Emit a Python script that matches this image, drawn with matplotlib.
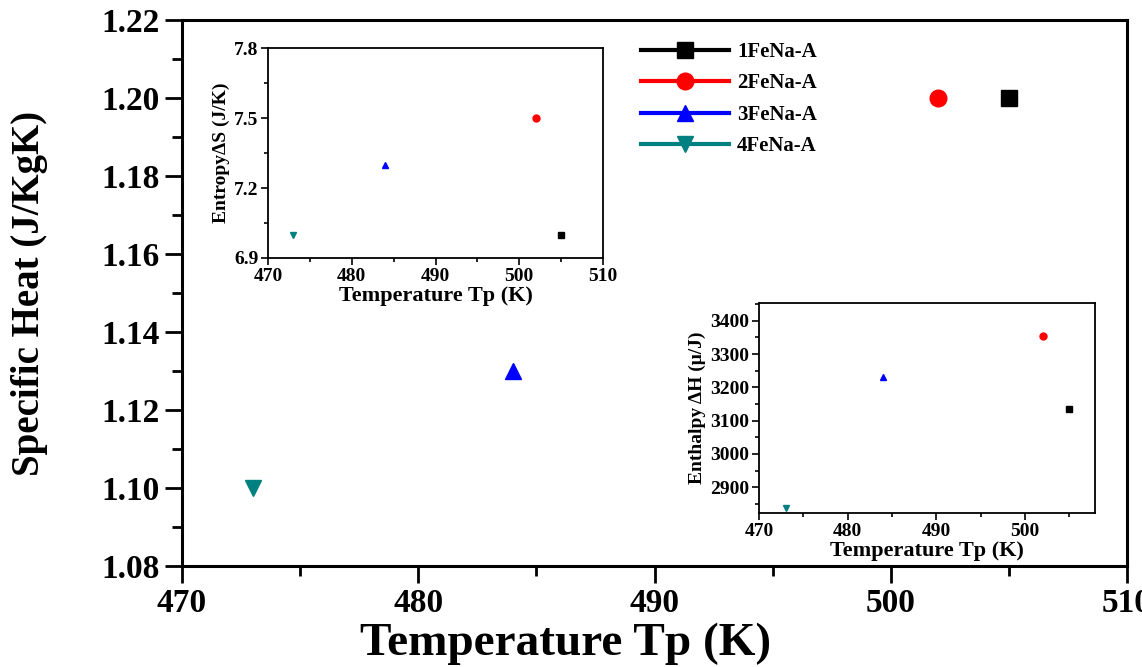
import matplotlib
matplotlib.use("Agg")
import matplotlib.pyplot as plt
from matplotlib.ticker import MultipleLocator

# donnees
samples = ["1FeNa-A", "2FeNa-A", "3FeNa-A", "4FeNa-A"]
temps = [505, 502, 484, 473]
specific_heat = [1.20, 1.20, 1.13, 1.10]
entropy = [7.0, 7.5, 7.3, 7.0]
enthalpy = [3135, 3355, 3232, 2838]

colors = ["black", "red", "blue", "#008080"]
markers = ["s", "o", "^", "v"]

plt.rcParams["font.family"] = ["Liberation Serif", "DejaVu Serif"]
plt.rcParams["font.weight"] = "bold"

fig = plt.figure(figsize=(11.42, 6.67), dpi=100)

# axe principal
ax = fig.add_axes([0.1594, 0.1514, 0.8275, 0.8186])
for i in range(len(samples)):
    ax.plot(temps[i], specific_heat[i], ls="-", lw=3, marker=markers[i],
            color=colors[i], ms=12, label=samples[i])
ax.set_xlim(470, 510)
ax.set_ylim(1.08, 1.22)
ax.xaxis.set_major_locator(MultipleLocator(10))
ax.xaxis.set_minor_locator(MultipleLocator(5))
ax.yaxis.set_major_locator(MultipleLocator(0.02))
ax.yaxis.set_minor_locator(MultipleLocator(0.01))
ax.tick_params(which="major", direction="out", length=12, width=2, labelsize=24, pad=4)
ax.tick_params(which="minor", direction="out", length=7, width=2)
for sp in ax.spines.values():
    sp.set_linewidth(2.2)
ax.set_xlabel("Temperature Tp (K)", fontsize=34, fontweight="bold")
ax.xaxis.set_label_coords(0.406, -0.103)
ax.set_ylabel("Specific Heat (J/KgK)", fontsize=28, fontweight="bold")
ax.yaxis.set_label_coords(-0.142, 0.5)
ax.legend(loc="upper left", bbox_to_anchor=(0.477, 0.975), frameon=False,
          fontsize=15, handlelength=4.2, handletextpad=0.4, labelspacing=0.55,
          borderaxespad=0)

# encart entropie
ax1 = fig.add_axes([0.2347, 0.6132, 0.2933, 0.3148])
for i in range(len(samples)):
    ax1.plot(temps[i], entropy[i], ls="none", marker=markers[i], color=colors[i], ms=5)
ax1.set_xlim(470, 510)
ax1.set_ylim(6.9, 7.8)
ax1.xaxis.set_major_locator(MultipleLocator(10))
ax1.xaxis.set_minor_locator(MultipleLocator(5))
ax1.yaxis.set_major_locator(MultipleLocator(0.3))
ax1.yaxis.set_minor_locator(MultipleLocator(0.15))
ax1.tick_params(which="major", direction="out", length=5, width=1.2, labelsize=14, pad=2)
ax1.tick_params(which="minor", direction="out", length=3, width=1.2)
for sp in ax1.spines.values():
    sp.set_linewidth(1.3)
ax1.set_xlabel("Temperature Tp (K)", fontsize=16, fontweight="bold", labelpad=1)
ax1.set_ylabel("Entropy\u0394S (J/K)", fontsize=14, fontweight="bold", labelpad=3)

# encart enthalpie
ax2 = fig.add_axes([0.6646, 0.2309, 0.2942, 0.3148])
for i in range(len(samples)):
    ax2.plot(temps[i], enthalpy[i], ls="none", marker=markers[i], color=colors[i], ms=5)
ax2.set_xlim(470, 507.9)
ax2.set_ylim(2823, 3453)
ax2.xaxis.set_major_locator(MultipleLocator(10))
ax2.xaxis.set_minor_locator(MultipleLocator(5))
ax2.yaxis.set_major_locator(MultipleLocator(100))
ax2.yaxis.set_minor_locator(MultipleLocator(50))
ax2.tick_params(which="major", direction="out", length=5, width=1.2, labelsize=14, pad=2)
ax2.tick_params(which="minor", direction="out", length=3, width=1.2)
for sp in ax2.spines.values():
    sp.set_linewidth(1.3)
ax2.set_xlabel("Temperature Tp (K)", fontsize=16, fontweight="bold", labelpad=1)
ax2.set_ylabel("Enthalpy \u0394H (\u03bc/J)", fontsize=14, fontweight="bold", labelpad=3)

fig.savefig("out.png", dpi=100)
